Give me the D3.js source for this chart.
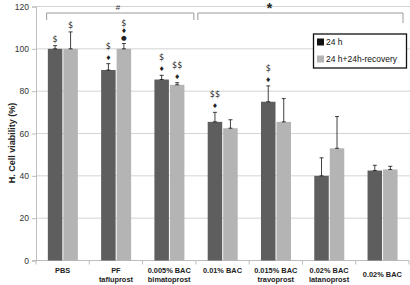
<!DOCTYPE html>
<html><head><meta charset="utf-8">
<script src="https://cdn.jsdelivr.net/npm/d3@7"></script>
<style>body{margin:0;background:#fff}svg{display:block}</style>
</head><body><svg id="c" width="410" height="285"></svg>
<script>
const categories = [["PBS"],["PF","tafluprost"],["0.005% BAC","bimatoprost"],["0.01% BAC"],["0.015% BAC","travoprost"],["0.02% BAC","latanoprost"],["0.02% BAC"]];
const seriesNames = ["24 h","24 h+24h-recovery"];
const values24h = [100, 90, 85.5, 65.5, 75, 40, 42.5];
const errors24h = [1.5, 3, 2, 4.5, 7.5, 8.5, 2.5];
const valuesRecovery = [100, 100, 83, 62.5, 65.5, 53, 43];
const errorsRecovery = [8, 2.5, 1, 4, 11, 15, 1.5];
const yTicks = [0, 20, 40, 60, 80, 100, 120];
const annot24h = [["$"],["♦","$"],["♦","$"],["♦","$$"],["♦","$"],[],[]];
const annotRecovery = [["$"],["●","♦","$"],["♦","$$"],[],[],[],[]];
const colors = ["#5e5e5e", "#b4b4b4"];

const svg = d3.select("#c");
const x0 = 36, x1 = 409, yb = 260.5, yt = 6.5;
const x = d3.scaleBand().domain(d3.range(categories.length)).range([x0, x1]);
const y = d3.scaleLinear().domain([0, 120]).range([yb, yt]);
const bw = 14.5;

// gridlines
svg.append("g").selectAll("line").data(yTicks.filter(d => d > 0)).join("line")
  .attr("x1", x0).attr("x2", 410).attr("y1", d => y(d)).attr("y2", d => y(d))
  .attr("stroke", "#d4d4d4").attr("stroke-width", 1);

// y axis
const ya = svg.append("g").attr("transform", `translate(${x0},0)`)
  .call(d3.axisLeft(y).tickValues(yTicks).tickSize(4).tickPadding(3));
ya.select(".domain").attr("stroke", "#bdbdbd");
ya.selectAll(".tick line").attr("stroke", "#bdbdbd");
ya.selectAll("text").attr("font-family", "Liberation Sans, Arial, sans-serif").attr("font-size", 8.5).attr("fill", "#333");

// x axis
const xa = svg.append("g").attr("transform", `translate(0,${yb})`);
xa.append("line").attr("x1", x0 - 4).attr("x2", x1).attr("stroke", "#bdbdbd");
xa.selectAll("line.t").data(d3.range(categories.length + 1)).join("line").attr("class", "t")
  .attr("x1", i => x0 + i * x.bandwidth()).attr("x2", i => x0 + i * x.bandwidth())
  .attr("y1", 0).attr("y2", 4).attr("stroke", "#bdbdbd");
categories.forEach((lines, i) => {
  const cx = x(i) + x.bandwidth() / 2;
  const startY = (lines.length === 1 && i === categories.length - 1) ? 277 : 273;
  const t = svg.append("text").attr("x", cx).attr("y", startY).attr("text-anchor", "middle")
    .attr("font-family", "Liberation Sans, Arial, sans-serif").attr("font-size", 7.4)
    .attr("font-weight", "bold").attr("fill", "#222");
  lines.forEach((l, k) => t.append("tspan").attr("x", cx).attr("dy", k === 0 ? 0 : 9).text(l));
});

// y label
svg.append("text").attr("transform", "translate(15,143) rotate(-90)").attr("text-anchor", "middle")
  .attr("font-family", "Liberation Sans, Arial, sans-serif").attr("font-size", 9).attr("font-weight", "bold")
  .attr("fill", "#222").text("H. Cell viability (%)");

// bars
const series = [
  {vals: values24h, errs: errors24h, ann: annot24h, off: -bw - 0.3},
  {vals: valuesRecovery, errs: errorsRecovery, ann: annotRecovery, off: 0.7}
];
series.forEach((s, si) => {
  const g = svg.append("g");
  g.selectAll("rect").data(s.vals).join("rect")
    .attr("x", (d, i) => x(i) + x.bandwidth() / 2 + s.off)
    .attr("y", d => y(d)).attr("width", bw).attr("height", d => yb - y(d))
    .attr("fill", colors[si]);
  s.vals.forEach((v, i) => {
    const cx = x(i) + x.bandwidth() / 2 + s.off + bw / 2;
    const e = s.errs[i];
    g.append("line").attr("x1", cx).attr("x2", cx).attr("y1", y(v)).attr("y2", y(v + e)).attr("stroke", "#111").attr("stroke-width", 0.8);
    [v, v + e].forEach(w => g.append("line").attr("x1", cx - 2).attr("x2", cx + 2).attr("y1", y(w)).attr("y2", y(w)).attr("stroke", "#111").attr("stroke-width", 0.8));
    const syms = s.ann[i];
    const step = syms.length > 2 ? 7 : 11;
    syms.forEach((sym, k) => {
      g.append("text").attr("x", cx).attr("y", y(v + e) - 4 - k * step)
        .attr("text-anchor", "middle").attr("font-family", "DejaVu Sans, sans-serif")
        .attr("font-size", sym === "$" || sym === "$$" ? 8 : 6.5).attr("fill", "#222").text(sym);
    });
  });
});

// brackets
const bracket = (xa_, xb_, yy, d1, d2) => svg.append("path")
  .attr("d", `M${xa_},${yy + d1}V${yy}H${xb_}V${yy + d2}`).attr("fill", "none").attr("stroke", "#9a9a9a").attr("stroke-width", 1);
bracket(x(0) + x.bandwidth() / 2 - 16, x(2) + x.bandwidth() - 2, 13, 7, 7);
bracket(x(3) + 2, x(6) + x.bandwidth() - 6, 13, 7, 10);
svg.append("text").attr("x", (x(0) + x(2) + x.bandwidth()) / 2 + 2).attr("y", 9.5).attr("text-anchor", "middle")
  .attr("font-family", "Liberation Sans, Arial, sans-serif").attr("font-size", 8).attr("fill", "#333").text("#");
svg.append("text").attr("x", (x(3) + x(6) + x.bandwidth()) / 2 - 33).attr("y", 13).attr("text-anchor", "middle")
  .attr("font-family", "Liberation Sans, Arial, sans-serif").attr("font-size", 14).attr("font-weight", "bold").attr("fill", "#222").text("*");

// legend
const lg = svg.append("g").attr("transform", "translate(313.5,34)");
lg.append("rect").attr("width", 93).attr("height", 34).attr("fill", "#fff").attr("stroke", "#111").attr("stroke-width", 1.3);
seriesNames.forEach((n, i) => {
  lg.append("rect").attr("x", 3.5).attr("y", 4.5 + i * 17).attr("width", 7).attr("height", 7).attr("fill", i === 0 ? "#111" : colors[1]);
  lg.append("text").attr("x", 12.5).attr("y", 11 + i * 17).attr("font-family", "Liberation Sans, Arial, sans-serif")
    .attr("font-size", 8.5).attr("fill", "#111").text(n);
});
</script></body></html>
